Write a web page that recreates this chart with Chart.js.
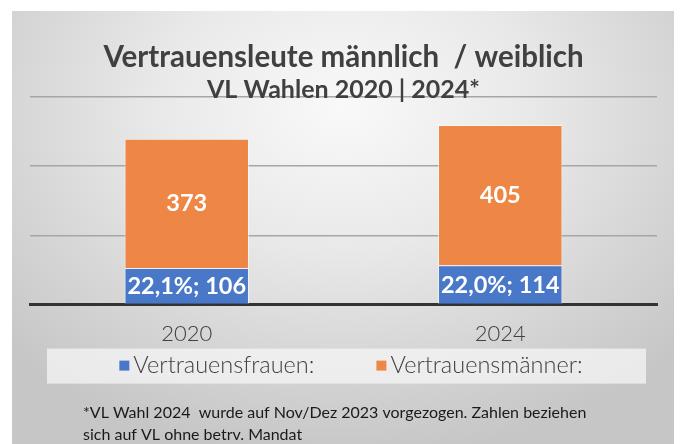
<!DOCTYPE html>
<html><head><meta charset="utf-8">
<script src="https://cdn.jsdelivr.net/npm/chart.js@4"></script>
<style>
html,body{margin:0;padding:0;background:#fff;width:680px;height:444px;overflow:hidden}
#panel{position:absolute;left:12px;top:11px;width:662px;height:440px;
 background:radial-gradient(ellipse 70% 80% at 50% 22%, #f9f9f9 0%, #e9e9e9 40%, #d4d4d4 75%, #c6c6c6 100%);}
#wrap{position:absolute;left:0;top:0;width:680px;height:444px}
</style></head><body>
<div id="panel"></div>
<div id="wrap"><canvas id="c" width="680" height="444"></canvas></div>
<script>
const categories = ['2020', '2024'];
const frauen = [106, 114];
const maenner = [373, 405];
const seriesNames = ['Vertrauensfrauen:', 'Vertrauensmänner:'];
const yTicks = [0, 200, 400, 600];
const titleText = 'Vertrauensleute männlich  / weiblich';
const subtitleText = 'VL Wahlen 2020 | 2024*';
const footnoteLines = ['*VL Wahl 2024  wurde auf Nov/Dez 2023 vorgezogen. Zahlen beziehen', 'sich auf VL ohne betrv. Mandat'];

const BLUE = '#4a78c8';
const ORANGE = '#ee8746';
const FONT = 'Lato, "Open Sans", sans-serif';

const labelPlugin = {
  id: 'barLabels',
  afterDatasetsDraw(chart) {
    const ctx = chart.ctx;
    ctx.save();
    ctx.fillStyle = '#ffffff';
    ctx.font = 'bold 23.5px ' + FONT;
    ctx.textAlign = 'center';
    ctx.textBaseline = 'middle';
    chart.data.datasets.forEach((ds, di) => {
      const meta = chart.getDatasetMeta(di);
      meta.data.forEach((el, i) => {
        const p = el.getProps(['x', 'y', 'base'], true);
        let txt;
        if (di === 0) {
          const pct = (frauen[i] / (frauen[i] + maenner[i]) * 100).toFixed(1).replace('.', ',');
          txt = pct + '%; ' + frauen[i];
        } else {
          txt = String(maenner[i]);
        }
        ctx.fillText(txt, p.x, (p.y + p.base) / 2 + (di === 0 ? 1 : 0));
      });
    });
    ctx.restore();
  }
};

const legendFootPlugin = {
  id: 'legendFoot',
  afterDraw(chart) {
    const ctx = chart.ctx;
    const ca = chart.chartArea;
    const ref = ca.bottom;
    ctx.save();
    // legend background
    ctx.fillStyle = 'rgba(245,245,245,0.75)';
    ctx.fillRect(ca.left + 17, ref + 44, (ca.right - 11) - (ca.left + 17), 35);
    // legend items
    ctx.font = '300 23.5px ' + FONT;
    ctx.textBaseline = 'middle';
    ctx.textAlign = 'left';
    const colors = [BLUE, ORANGE];
    const box = 10, gapBox = 4, gapItems = 62;
    const widths = seriesNames.map(s => box + gapBox + ctx.measureText(s).width);
    const total = widths[0] + widths[1] + gapItems;
    let x = chart.width / 2 + 11 - total / 2;
    const ym = ref + 61;
    seriesNames.forEach((s, i) => {
      ctx.fillStyle = colors[i];
      ctx.fillRect(x, ym - 5, box, box);
      ctx.fillStyle = '#404040';
      ctx.fillText(s, x + box + gapBox, ym);
      x += widths[i] + gapItems;
    });
    // footnote
    ctx.font = '16px ' + FONT;
    ctx.fillStyle = '#1a1a1a';
    ctx.fillText(footnoteLines[0], 83, ref + 108);
    ctx.fillText(footnoteLines[1], 83, ref + 130);
    ctx.restore();
  }
};

new Chart(document.getElementById('c'), {
  type: 'bar',
  data: {
    labels: categories,
    datasets: [
      { label: seriesNames[0], data: frauen, backgroundColor: BLUE, borderColor: 'rgba(255,255,255,0.55)', borderWidth: 1, barPercentage: 0.397, categoryPercentage: 1 },
      { label: seriesNames[1], data: maenner, backgroundColor: ORANGE, borderColor: 'rgba(255,255,255,0.55)', borderWidth: 1, barPercentage: 0.397, categoryPercentage: 1 }
    ]
  },
  options: {
    responsive: false,
    devicePixelRatio: 1,
    animation: false,
    layout: { padding: { top: 0, left: 30, right: 23, bottom: 81 } },
    plugins: {
      legend: { display: false },
      tooltip: { enabled: false },
      title: {
        display: true, text: titleText, color: '#404040',
        font: { family: FONT, size: 29.5, weight: 'bold', lineHeight: 1.2 },
        padding: { top: 39.3, bottom: 0 }
      },
      subtitle: {
        display: true, text: subtitleText, color: '#404040',
        font: { family: FONT, size: 25, weight: 'bold', lineHeight: 1.2 },
        padding: { top: 0.3, bottom: -8 }
      }
    },
    scales: {
      x: {
        stacked: true,
        grid: { display: false, drawTicks: false },
        border: { display: true, color: '#333333', width: 3 },
        ticks: { color: '#404040', padding: 16, font: { family: FONT, size: 22, weight: '300', lineHeight: 1.2 } }
      },
      y: {
        stacked: true,
        min: 0, max: 600,
        afterBuildTicks(scale) { scale.ticks = yTicks.map(v => ({ value: v })); },
        ticks: { display: false },
        grid: { color: '#a6a6a6', lineWidth: 1.5, drawTicks: false },
        border: { display: false }
      }
    }
  },
  plugins: [labelPlugin, legendFootPlugin]
});
</script>
</body></html>
